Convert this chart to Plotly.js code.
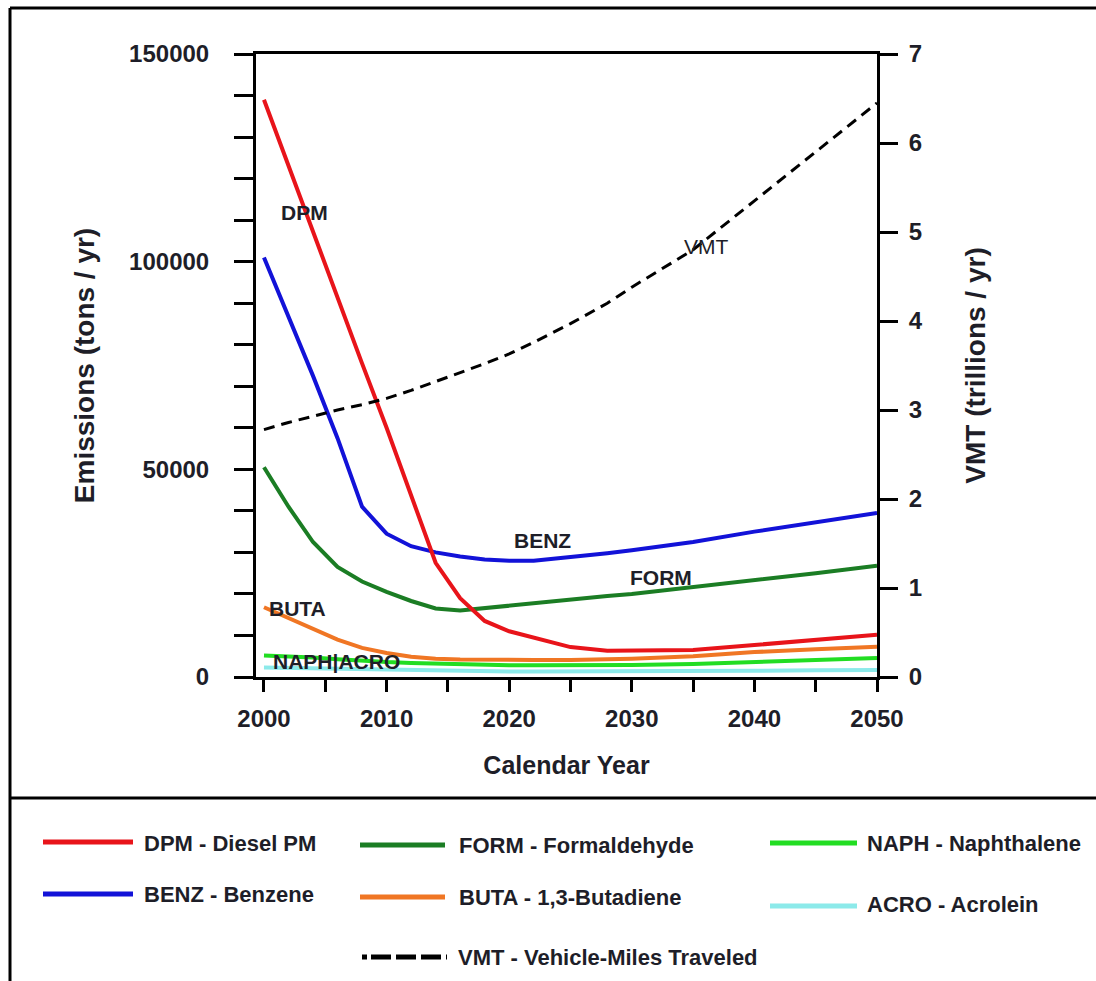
<!DOCTYPE html>
<html><head><meta charset="utf-8">
<script src="https://cdn.plot.ly/plotly-3.0.1.min.js"></script>
<style>html,body{margin:0;padding:0;background:#fff}#chart{width:1096px;height:981px}</style>
</head><body><div id="chart"></div>
<script>
// ---- data ----
const years = [2000,2002,2004,2006,2008,2010,2012,2014,2016,2018,2020,2022,2025,2028,2030,2035,2040,2045,2050];
const dpm  = [139000,123000,107000,91500,75500,60000,44000,27500,19000,13500,11000,9500,7200,6300,6300,6500,7700,8900,10200];
const benz = [101000,87000,72500,57500,41000,34500,31500,30000,29000,28300,28000,28000,28800,29800,30500,32500,35000,37300,39500];
const form = [50500,41000,32500,26500,23000,20500,18300,16500,16000,16600,17300,17900,18700,19500,20000,21600,23300,25000,26800];
const buta = [16800,14200,11500,9000,7000,5800,4900,4400,4200,4100,4100,4100,4100,4200,4400,5000,6000,6700,7300];
const naph = [5200,5000,4700,4300,3900,3600,3400,3200,3000,2900,2800,2800,2800,2800,2900,3100,3600,4100,4600];
const acro = [2300,2200,2100,1900,1800,1600,1500,1400,1300,1300,1300,1300,1300,1300,1300,1400,1500,1600,1700];
const vmt  = [2.78,2.86,2.93,3.0,3.06,3.13,3.22,3.32,3.42,3.52,3.63,3.76,3.97,4.2,4.38,4.8,5.35,5.9,6.45];

const xTickVals = [2000,2005,2010,2015,2020,2025,2030,2035,2040,2045,2050];
const xTickText = ['2000','','2010','','2020','','2030','','2040','','2050'];
const yTickVals = [0,10000,20000,30000,40000,50000,60000,70000,80000,90000,100000,110000,120000,130000,140000,150000];
const yTickText = ['0','','','','','50000','','','','','100000','','','','','150000'];
const y2TickVals = [0,1,2,3,4,5,6,7];

const seriesNames = ['ACRO','NAPH','BUTA','FORM','BENZ','DPM'];
const legendNames = ['DPM - Diesel PM','BENZ - Benzene','FORM - Formaldehyde','BUTA - 1,3-Butadiene','NAPH - Naphthalene','ACRO - Acrolein','VMT - Vehicle-Miles Traveled'];
const inlineLabels = ['DPM','BENZ','FORM','BUTA','NAPH|ACRO','VMT'];

// ---- styling ----
const C = {DPM:'#e8141a', BENZ:'#1212d8', FORM:'#1b7d24', BUTA:'#f07624', NAPH:'#22dd22', ACRO:'#8ceaea', VMT:'#000000'};
const FONT = 'Liberation Sans, Arial, sans-serif';
const TXT = '#1e1e28';

const L=256,R=877,T=54,B=677,W=1096,H=981;
function px(x){return (x-L)/(R-L);}
function py(y){return (B-y)/(B-T);}

const emis = {ACRO:acro, NAPH:naph, BUTA:buta, FORM:form, BENZ:benz, DPM:dpm};
const traces = seriesNames.map(n => ({
  x: years, y: emis[n], type:'scatter', mode:'lines', name:n,
  line:{color:C[n], width:4}, showlegend:false, hoverinfo:'x+y+name'
}));
traces.push({x:years, y:vmt, type:'scatter', mode:'lines', name:'VMT', yaxis:'y2',
  line:{color:C.VMT, width:3, dash:'11px,7px'}, showlegend:false});

// frame lines
const shapes = [
  {type:'line', xref:'paper', yref:'paper', x0:px(10), x1:px(1100), y0:py(8), y1:py(8), line:{color:'#000', width:3}},
  {type:'line', xref:'paper', yref:'paper', x0:px(10), x1:px(10), y0:py(8), y1:py(985), line:{color:'#000', width:3}},
  {type:'line', xref:'paper', yref:'paper', x0:px(10), x1:px(1100), y0:py(798), y1:py(798), line:{color:'#000', width:3}}
];

// custom legend
const legendItems = [
  {t:legendNames[0], c:C.DPM,  x0:43,  x1:133, y:842, tx:142, ty:843},
  {t:legendNames[1], c:C.BENZ, x0:43,  x1:133, y:894, tx:142, ty:894},
  {t:legendNames[2], c:C.FORM, x0:360, x1:445, y:845, tx:457, ty:846},
  {t:legendNames[3], c:C.BUTA, x0:360, x1:445, y:897, tx:457, ty:897},
  {t:legendNames[4], c:C.NAPH, x0:770, x1:857, y:843, tx:865, ty:843},
  {t:legendNames[5], c:C.ACRO, x0:770, x1:857, y:906, tx:865, ty:904},
  {t:legendNames[6], c:C.VMT,  x0:362, x1:447, y:957, tx:456, ty:957, dash:'5px,4px,20px,5px,20px,5px,20px,5px'}
];
const annotations = [];
legendItems.forEach(it => {
  shapes.push({type:'line', xref:'paper', yref:'paper', x0:px(it.x0), x1:px(it.x1), y0:py(it.y), y1:py(it.y),
    line:{color:it.c, width:5, dash: it.dash || 'solid'}});
  annotations.push({xref:'paper', yref:'paper', x:px(it.tx), y:py(it.ty), xanchor:'left', yanchor:'middle',
    text:it.t, showarrow:false, font:{family:FONT, size:22, weight:700, color:TXT}});
});

// inline labels on the chart
const lbl = [
  {t:inlineLabels[0], x:304, y:212, w:700},
  {t:inlineLabels[1], x:542, y:540, w:700},
  {t:inlineLabels[2], x:661, y:577, w:700},
  {t:inlineLabels[3], x:297, y:608, w:700},
  {t:inlineLabels[4], x:336, y:661, w:700},
  {t:inlineLabels[5], x:706, y:246, w:400}
];
lbl.forEach(a => annotations.push({xref:'paper', yref:'paper', x:px(a.x), y:py(a.y), xanchor:'center', yanchor:'middle',
  text:a.t, showarrow:false, font:{family:FONT, size:21, weight:a.w, color:TXT}}));

const tickFont = {family:FONT, size:24, weight:700, color:TXT};
const layout = {
  width:W, height:H,
  margin:{l:L, r:W-R, t:T, b:H-B, pad:0},
  paper_bgcolor:'#fff', plot_bgcolor:'#fff',
  showlegend:false,
  xaxis:{range:[1999.35,2050], tickvals:xTickVals, ticktext:xTickText, ticks:'outside', ticklen:12, tickwidth:3,
    tickcolor:'#000', showline:true, linecolor:'#000', linewidth:3, mirror:true, showgrid:false, zeroline:false,
    tickfont:tickFont, automargin:false, ticklabelstandoff:6,
    title:{text:'Calendar Year', font:{family:FONT, size:25, weight:700, color:TXT}, standoff:26}},
  yaxis:{range:[0,150000], tickvals:yTickVals, ticktext:yTickText, ticks:'outside', ticklen:19, tickwidth:3,
    tickcolor:'#000', showline:true, linecolor:'#000', linewidth:3, showgrid:false, zeroline:false,
    tickfont:tickFont, automargin:false, ticklabelstandoff:20,
    title:{text:'Emissions (tons / yr)', font:{family:FONT, size:28, weight:700, color:TXT}, standoff:27}},
  yaxis2:{range:[0,7], overlaying:'y', side:'right', tickvals:y2TickVals, ticks:'outside', ticklen:18, tickwidth:3,
    tickcolor:'#000', showline:true, linecolor:'#000', linewidth:3, showgrid:false, zeroline:false,
    tickfont:tickFont, automargin:false, ticklabelstandoff:6,
    title:{text:'VMT (trillions / yr)', font:{family:FONT, size:28, weight:700, color:TXT}, standoff:44}},
  shapes:shapes, annotations:annotations
};
Plotly.newPlot('chart', traces, layout, {displayModeBar:false, staticPlot:true});
</script></body></html>
